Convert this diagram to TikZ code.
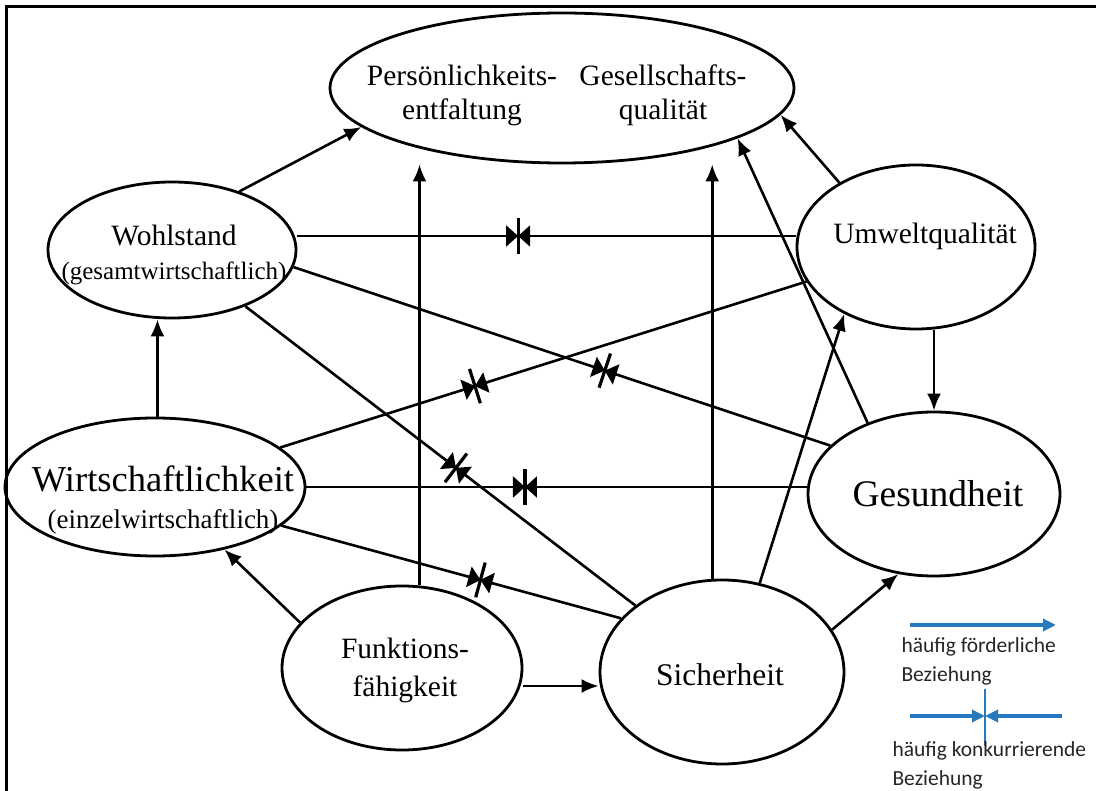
\documentclass[tikz,border=0pt]{standalone}
\usepackage{fontspec}
\setmainfont{Liberation Serif}
\newfontfamily\legendefont{Carlito}
\usetikzlibrary{arrows.meta, shapes.geometric, decorations.markings}
\definecolor{legendeblau}{RGB}{38,121,191}

\begin{document}
\begin{tikzpicture}[x=1pt, y=-1pt,
    feld/.style={draw, ellipse, line width=2.8pt, inner sep=0pt},
    beschr/.style={align=center, font=\fontsize{29.5}{34}\selectfont},
    foerdert/.style={line width=2.6pt, -{Latex[length=17pt, width=14pt]}},
    konflikt/.style={line width=2.6pt, decoration={markings, mark=at position #1 with {
        \draw[line width=2pt, -{Triangle[length=12pt, width=21pt]}] (-16pt,0) -- (0,0);
        \draw[line width=2pt, -{Triangle[length=12pt, width=21pt]}] (16pt,0) -- (0,0);
        \draw[line width=3.2pt] (0,-18pt) -- (0,18pt);}}, postaction={decorate}},
    legende/.style={legendeblau, line width=3.8pt},
    legtext/.style={anchor=north west, align=left, text=black!85,
        font=\legendefont\fontsize{21.5}{29}\selectfont}
  ]
\useasboundingbox (0,0) rectangle (1096,791);
% Rahmen
\draw[line width=3pt] (1096,7) -- (6,7) -- (6,791);

% Ellipsen
\node[feld, minimum width=464pt, minimum height=150pt] (ziel) at (562,88) {};
\node[feld, minimum width=248pt, minimum height=136pt] (wohl) at (172,250) {};
\node[feld, minimum width=238pt, minimum height=164pt] (umw)  at (916,247) {};
\node[feld, minimum width=300pt, minimum height=138pt] (wirt) at (155,487) {};
\node[feld, minimum width=252pt, minimum height=164pt] (ges)  at (934,494) {};
\node[feld, minimum width=240pt, minimum height=164pt] (funk) at (402,668) {};
\node[feld, minimum width=244pt, minimum height=184pt] (sich) at (722,672) {};

% Beschriftungen
\node[beschr] (ziel-l) at (462,95) {Persönlichkeits-\\entfaltung};
\node[beschr] (ziel-r) at (663,95) {Gesellschafts-\\qualität};
\node[beschr] (wohl-t) at (174,255) {Wohlstand\\{\fontsize{25}{30}\selectfont(gesamtwirtschaftlich)}};
\node[beschr] (umw-t)  at (925,236) {Umweltqualität};
\node[beschr, font=\fontsize{36.5}{37}\selectfont] (wirt-t) at (163,500) {Wirtschaftlichkeit\\{\fontsize{27}{30}\selectfont(einzelwirtschaftlich)}};
\node[beschr, font=\fontsize{37.5}{40}\selectfont] (ges-t)  at (938,494) {Gesundheit};
\node[beschr, font=\fontsize{29.5}{38}\selectfont] (funk-t) at (405,670) {Funktions-\\fähigkeit};
\node[beschr, font=\fontsize{31.5}{36}\selectfont] (sich-t) at (720,675) {Sicherheit};

% foerderliche Beziehungen
\draw[foerdert] (wohl.41) -- (ziel.191);
\draw[foerdert] (funk.78) -- (funk.78 |- ziel.south);
\draw[foerdert] (sich.96) -- (sich.96 |- ziel.south);
\draw[foerdert] (sich.67) -- (umw.223);
\draw[foerdert] (ges.133) -- (ziel.-16);
\draw[foerdert] (umw.140) -- (ziel.-7);
\draw[foerdert] (umw.south -| ges.north) -- (ges.north);
\draw[foerdert] (wirt.88) -- (wirt.88 |- wohl.south);
\draw[foerdert] (funk.156) -- (wirt.-42);
\draw[foerdert] ([yshift=-18pt]funk.east) -- ([yshift=-18pt]funk.east -| sich.west);
\draw[foerdert] (sich.21) -- (ges.246);

% konkurrierende Beziehungen
\draw[konflikt=0.443] ([yshift=14pt]wohl.east) -- ([yshift=14pt]wohl.east -| umw.west);
\draw[konflikt=0.58] (wohl.-8) -- (ges.155);
\draw[konflikt=0.37] (wirt) -- (umw);
\draw[konflikt=0.54] (wohl) -- (sich);
\draw[konflikt=0.437] (wirt.east) -- (wirt.east -| ges.west);
\draw[konflikt=0.586] (wirt.-17) -- (sich.152);

% Legende
\coordinate (l1a) at (910,625);
\coordinate (l1b) at (1056,625);
\draw[legende, -{Triangle[length=13pt, width=12pt]}] (l1a) -- (l1b);
\node[legtext] (leg1) at (898,634) {häufig förderliche\\Beziehung};
\coordinate (l2a) at (910,716);
\coordinate (l2m) at (985,716);
\coordinate (l2b) at (1062,716);
\draw[legende, -{Triangle[length=13pt, width=12pt]}] (l2a) -- (l2m);
\draw[legende, -{Triangle[length=13pt, width=12pt]}] (l2b) -- (l2m);
\draw[legendeblau, line width=1.8pt] ([yshift=27pt]l2m) -- ([yshift=-30pt]l2m);
\node[legtext] (leg2) at (889,738) {häufig konkurrierende\\Beziehung};
\end{tikzpicture}
\end{document}
